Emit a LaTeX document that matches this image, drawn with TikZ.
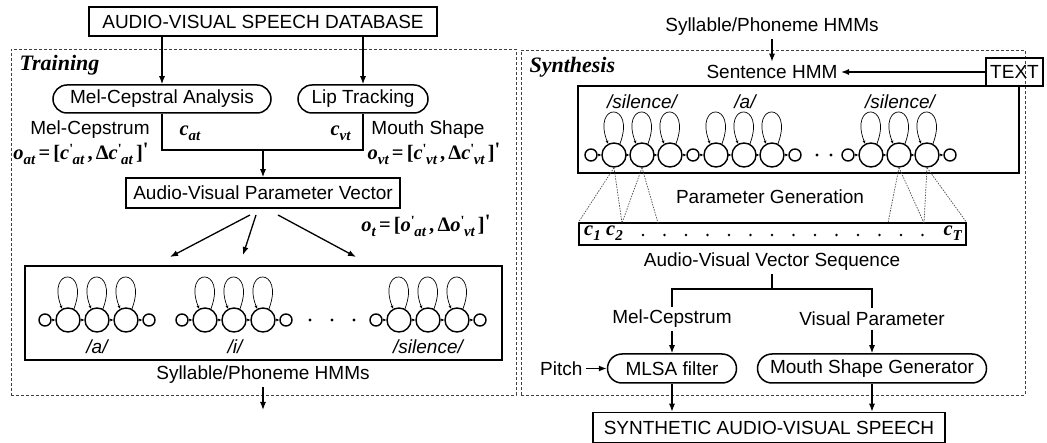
\documentclass[tikz,border=0pt]{standalone}
\usepackage{fontspec}
\setmainfont{Liberation Sans}
\newfontfamily\serf{Liberation Serif}
\usetikzlibrary{arrows.meta,shapes.misc}

% bold italic variables with lowered subscripts and primes
\newcommand{\bivar}[1]{{\fontsize{20.5}{22}\selectfont\serf\bfseries\itshape #1}}
\newcommand{\lowsub}[1]{\raisebox{-5pt}{\fontsize{15}{15}\selectfont\serf\bfseries\itshape #1}}
\newcommand{\primesub}[1]{\raisebox{6pt}{\fontsize{14}{14}\selectfont\serf\bfseries '}\kern-0.5pt\lowsub{#1}}
\newcommand{\symb}[1]{{\fontsize{20.5}{22}\selectfont\serf\bfseries #1}}

% one left-to-right HMM: entry state #2 at x=#3, three emitting states, exit state #1x
% #1 prefix, #4 y, #5 spacing of the emitting states
\newcommand{\hmmgroup}[5]{%
  \foreach \k in {1,2,3}{%
    \node[bigst] (#1\k) at ({#3+23+(\k-1)*#5},#4) {};
    \draw[selfloop] (#1\k.62) .. controls +(16,42) and +(-16,42) .. (#1\k.118);
  }
  \node[smallst] (#1x) at ({#3+46+2*#5},#4) {};
  \draw[hop] (#2) -- (#11);
  \draw[hop] (#11) -- (#12);
  \draw[hop] (#12) -- (#13);
  \draw[hop] (#13) -- (#1x);
}

\begin{document}
\begin{tikzpicture}[x=1pt,y=1pt,
  every node/.style={font=\fontsize{19}{22}\selectfont},
  box/.style={draw,line width=1.5pt,inner sep=0pt},
  pill/.style={draw,line width=1.5pt,rounded rectangle,inner sep=0pt},
  frame/.style={draw=black!75,line width=0.8pt,dash pattern=on 3pt off 2pt,inner sep=0pt},
  arr/.style={line width=1.3pt,-{Latex[length=8pt,width=6pt]}},
  wire/.style={line width=1.3pt},
  bigst/.style={circle,draw,line width=1.4pt,minimum size=24pt,inner sep=0pt},
  smallst/.style={circle,draw,line width=1.4pt,minimum size=12pt,inner sep=0pt},
  hop/.style={line width=1pt,-{Latex[length=3pt,width=3pt]}},
  selfloop/.style={line width=0.7pt,-{Latex[length=3pt,width=3pt]}},
  gen/.style={line width=0.7pt,dash pattern=on 1.5pt off 1.2pt,black!70},
  phon/.style={font=\fontsize{19}{22}\selectfont\itshape},
  head/.style={font=\fontsize{22}{24}\selectfont\serf\bfseries\itshape},
  ]
\useasboundingbox (0,0) rectangle (1047,-443);

% ---------------- Training ----------------
\node[frame,minimum width=505pt,minimum height=346pt] (trainframe) at (263.5,-222) {};
\node[head,anchor=west] (traintitle) at (16,-65) {Training};

\node[box,minimum width=348pt,minimum height=29pt] (db) at (263,-21.5) {AUDIO-VISUAL SPEECH DATABASE};
\node[pill,minimum width=218pt,minimum height=28pt] (mca) at (162,-99) {Mel-Cepstral Analysis};
\node[pill,minimum width=130pt,minimum height=28pt] (lip) at (363,-99) {Lip Tracking};
\draw[arr] (db.south -| mca.north) -- (mca.north);
\draw[arr] (db.south -| lip.north) -- (lip.north);

\node[anchor=west] (cat) at (176,-133) {\bivar{c}\lowsub{at}};
\node[anchor=east] (cvt) at (354,-133) {\bivar{c}\lowsub{vt}};
\node (melL) at (90,-130) {Mel-Cepstrum};
\node (oat) at (81,-154) {\bivar{o}\lowsub{at}\,\symb{=}\,\symb{[}\bivar{c}\primesub{at}\,\symb{,}\,\symb{Δ}\bivar{c}\primesub{at}\,\symb{]}\raisebox{3pt}{\symb{'}}};
\node (mouthL) at (428,-130) {Mouth Shape};
\node (ovt) at (434,-154) {\bivar{o}\lowsub{vt}\,\symb{=}\,\symb{[}\bivar{c}\primesub{vt}\,\symb{,}\,\symb{Δ}\bivar{c}\primesub{vt}\,\symb{]}\raisebox{3pt}{\symb{'}}};

\node[box,minimum width=274pt,minimum height=30pt] (avpv) at (263,-193) {Audio-Visual Parameter Vector};
\coordinate (merge) at (263,-150);
\draw[wire] (mca.south) |- (merge) -| (lip.south);
\draw[arr] (merge) -- (avpv.north);

\node (ot) at (426,-226) {\bivar{o}\lowsub{t}\,\symb{=}\,\symb{[}\bivar{o}\primesub{at}\,\symb{,}\,\symb{Δ}\bivar{o}\primesub{vt}\,\symb{]}\raisebox{3pt}{\symb{'}}};

\coordinate (fa) at (250,-215);
\coordinate (fi) at (256,-215);
\coordinate (fs) at (278,-215);
\coordinate (ta) at (170,-257);
\coordinate (ti) at (243,-255);
\coordinate (ts) at (356,-257);
\draw[arr] (fa) -- (ta);
\draw[arr] (fi) -- (ti);
\draw[arr] (fs) -- (ts);

\node[box,line width=1.2pt,minimum width=477pt,minimum height=94pt] (tbox) at (263.5,-313) {};
\node[smallst] (a0) at (45,-320) {};
\hmmgroup{a}{a0}{45}{-320}{29}
\node[smallst] (i0) at (182,-320) {};
\hmmgroup{i}{i0}{182}{-320}{29}
\node[smallst] (s0) at (376,-320) {};
\hmmgroup{s}{s0}{376}{-320}{29}
\foreach \x in {310,332,354} \fill (\x,-320) circle (1.6pt);
\node[phon] (la) at (97,-347) {/a/};
\node[phon] (li) at (235,-347) {/i/};
\node[phon] (ls) at (428,-347) {/silence/};

\node (thmm) at (263,-375) {Syllable/Phoneme HMMs};
\coordinate (tout) at (263,-410);
\draw[arr] (thmm.south) -- (tout);

% ---------------- Synthesis ----------------
\node[frame,minimum width=504pt,minimum height=345pt] (synframe) at (773,-222.5) {};
\node[head,anchor=west] (syntitle) at (526,-67) {Synthesis};

\node (shmmsrc) at (772,-27) {Syllable/Phoneme HMMs};
\node (shmm) at (772,-72) {Sentence HMM};
\draw[arr] (shmmsrc.south) -- (shmm.north);
\node[box,minimum width=57pt,minimum height=28pt] (txt) at (1014.5,-72) {TEXT};
\draw[arr] (txt.west) -- (shmm.east);

\node[box,line width=1.2pt,minimum width=441pt,minimum height=87pt] (sbox) at (798.5,-129.5) {};
\node[phon] (ps1) at (642,-102) {/silence/};
\node[phon] (pa) at (745,-102) {/a/};
\node[phon] (ps2) at (900,-102) {/silence/};
\node[smallst] (p0) at (591,-155) {};
\hmmgroup{p}{p0}{591}{-155}{28}
\hmmgroup{q}{px}{693}{-155}{28}
\node[smallst] (r0) at (848,-155) {};
\hmmgroup{r}{r0}{848}{-155}{28}
\foreach \x in {817,831} \fill (\x,-155) circle (1.6pt);

\node (pgen) at (770,-197) {Parameter Generation};
\node[box,line width=1.2pt,minimum width=387pt,minimum height=22pt] (vec) at (772.5,-234) {};
\coordinate (g1) at (622,-223);
\coordinate (g2) at (658,-223);
\coordinate (g3) at (888,-223);
\coordinate (g4) at (924,-223);
\draw[gen] (p1.south) -- (vec.north west);
\draw[gen] (p1.south) -- (g1);
\draw[gen] (p2.south) -- (g1);
\draw[gen] (p2.south) -- (g2);
\draw[gen] (r2.south) -- (g3);
\draw[gen] (r2.south) -- (g4);
\draw[gen] (r3.south) -- (g4);
\draw[gen] (r3.south) -- (vec.north east);
\node[anchor=west,inner sep=0pt] (c1) at (584,-233) {\bivar{c}\lowsub{1}};
\node[anchor=west,inner sep=0pt] (c2) at (606,-233) {\bivar{c}\lowsub{2}};
\node[anchor=east,inner sep=0pt] (cT) at (962,-233) {\bivar{c}\lowsub{T}};
\foreach \i in {0,...,13} \fill ({643+\i*21.5},-235) circle (1.4pt);

\node (avvs) at (772,-262) {Audio-Visual Vector Sequence};
\coordinate (split) at (772,-289);
\node (melR) at (672,-319) {Mel-Cepstrum};
\node (visp) at (872,-319) {Visual Parameter};
\draw[wire] (avvs.south) -- (split);
\draw[wire] (melR.north) |- (split) -| (visp.north);

\node[pill,minimum width=129pt,minimum height=29pt] (mlsa) at (672,-368.5) {MLSA filter};
\node[pill,minimum width=229pt,minimum height=29pt] (msg) at (872,-368.5) {Mouth Shape Generator};
\draw[arr] (melR.south) -- (mlsa.north);
\draw[arr] (visp.south) -- (msg.north);
\node[anchor=east] (pitch) at (586,-368.5) {Pitch};
\draw[arr] (pitch.east) -- (mlsa.west);

\node[box,minimum width=352pt,minimum height=30pt] (syn) at (769,-427.5) {SYNTHETIC AUDIO-VISUAL SPEECH};
\draw[arr] (mlsa.south) -- (mlsa.south |- syn.north);
\draw[arr] (msg.south) -- (msg.south |- syn.north);
\end{tikzpicture}
\end{document}
